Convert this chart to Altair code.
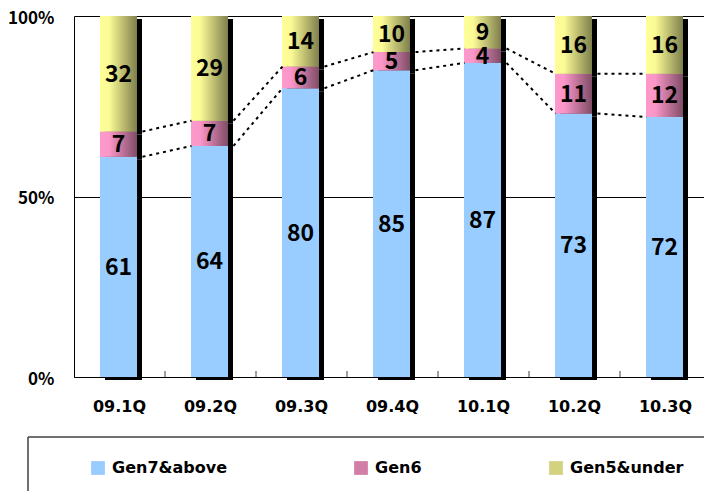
import altair as alt
import pandas as pd

categories = ["09.1Q", "09.2Q", "09.3Q", "09.4Q", "10.1Q", "10.2Q", "10.3Q"]
gen7 = [61, 64, 80, 85, 87, 73, 72]
gen6 = [7, 7, 6, 5, 4, 11, 12]
gen5 = [32, 29, 14, 10, 9, 16, 16]
series_names = ["Gen7&above", "Gen6", "Gen5&under"]
y_ticks = [0, 50, 100]

rows = []
for i, c in enumerate(categories):
    base_v = 0
    for s, vals in zip(series_names, [gen7, gen6, gen5]):
        v = vals[i]
        rows.append(dict(cat=c, series=s, value=v, y0=base_v, y1=base_v + v, mid=base_v + v / 2))
        base_v += v
df = pd.DataFrame(rows)

links = []
for i in range(len(categories) - 1):
    links.append(dict(cat=categories[i], cat2=categories[i + 1], ya=gen7[i], yb=gen7[i + 1]))
    links.append(dict(cat=categories[i], cat2=categories[i + 1],
                      ya=gen7[i] + gen6[i], yb=gen7[i + 1] + gen6[i + 1]))
links_df = pd.DataFrame(links)

BLUE = "#99CCFF"
pink_grad = alt.LinearGradient(
    gradient="linear", x1=0, x2=1, y1=0, y2=0,
    stops=[alt.GradientStop(color="#FF99CC", offset=0),
           alt.GradientStop(color="#FA96C8", offset=0.25),
           alt.GradientStop(color="#7F4D66", offset=1)])
yellow_grad = alt.LinearGradient(
    gradient="linear", x1=0, x2=1, y1=0, y2=0,
    stops=[alt.GradientStop(color="#FFFF99", offset=0),
           alt.GradientStop(color="#FAFA96", offset=0.25),
           alt.GradientStop(color="#7F7F4C", offset=1)])

NUM_FONT = "Noto Sans CJK JP"

xscale = alt.Scale(domain=categories, range=[0, 637], paddingInner=0, paddingOuter=0)
xaxis = alt.Axis(title=None, ticks=False, grid=False, domainColor="black", domainWidth=1,
                 labelFont="DejaVu Sans", labelFontWeight="bold", labelFontSize=16,
                 labelColor="black", labelPadding=21, labelAngle=0)
X = alt.X("cat:N", scale=xscale, axis=xaxis, sort=categories)
yscale = alt.Scale(domain=[0, 100], nice=False)
yaxis = alt.Axis(title=None, values=y_ticks, ticks=False, grid=True, gridColor="black",
                 gridWidth=1, gridOpacity=1, domainColor="black", domainWidth=1,
                 labelExpr="datum.value + '%'", labelFont=NUM_FONT, labelFontWeight="bold",
                 labelFontSize=17, labelColor="black", labelPadding=20, labelOffset=2,
                 labelFlush=False)

base = alt.Chart(df)

shadow = base.mark_bar(color="black", size=37, xOffset=4, yOffset=3, y2Offset=3).encode(
    x=X, y=alt.Y("y1:Q", scale=yscale, axis=yaxis), y2="y0:Q")

bars = base.mark_bar(size=37, xOffset=-1).encode(
    x=X, y=alt.Y("y1:Q", scale=yscale, axis=yaxis), y2="y0:Q",
    color=alt.Color("series:N",
                    scale=alt.Scale(domain=series_names, range=[BLUE, "#D27FA8", "#D3D37F"]),
                    legend=alt.Legend(orient="none", legendX=16, legendY=444,
                                      direction="horizontal", title=None,
                                      symbolType="square", symbolSize=190,
                                      symbolStrokeWidth=0, symbolOpacity=1,
                                      labelFont="DejaVu Sans", labelFontWeight="bold",
                                      labelFontSize=16, labelColor="black", labelOffset=6,
                                      columnPadding=126, padding=0)))

pink = base.transform_filter(alt.datum.series == "Gen6").mark_bar(
    size=37, xOffset=-1, color=pink_grad).encode(
    x=X, y=alt.Y("y1:Q", scale=yscale, axis=yaxis), y2="y0:Q")
yellow = base.transform_filter(alt.datum.series == "Gen5&under").mark_bar(
    size=37, xOffset=-1, color=yellow_grad).encode(
    x=X, y=alt.Y("y1:Q", scale=yscale, axis=yaxis), y2="y0:Q")

connectors = alt.Chart(links_df).mark_rule(
    color="black", strokeWidth=2, strokeDash=[3, 4], xOffset=23, x2Offset=-19).encode(
    x=X, x2="cat2:N", y=alt.Y("ya:Q", scale=yscale, axis=yaxis), y2="yb:Q")

ticks = base.transform_filter(alt.datum.series == "Gen7&above").mark_rule(
    color="#404040", strokeWidth=1, xOffset=45.5).encode(
    x=X, y=alt.value(355), y2=alt.value(361))

labels = base.mark_text(font=NUM_FONT, fontWeight="bold", fontSize=23, color="black",
                        baseline="middle", align="center", xOffset=-1, dy=1).encode(
    x=X, y=alt.Y("mid:Q", scale=yscale, axis=yaxis), text="value:Q")

box_df = pd.DataFrame({"k": [0]})
box_top = alt.Chart(box_df).mark_rule(color="#404040", strokeWidth=1.5).encode(
    x=alt.value(-46), x2=alt.value(640), y=alt.value(421))
box_left = alt.Chart(box_df).mark_rule(color="#404040", strokeWidth=1.5).encode(
    x=alt.value(-46), y=alt.value(421), y2=alt.value(480))

chart = alt.layer(shadow, bars, pink, yellow, connectors, ticks, labels, box_top, box_left).properties(
    width=630, height=361,
    autosize=alt.AutoSizeParams(type="none"),
    padding={"left": 74, "top": 16, "right": 0, "bottom": 114},
    background="white",
).configure_view(strokeWidth=0)

chart.save("out.html", embed_options={"renderer": "svg", "actions": False})
